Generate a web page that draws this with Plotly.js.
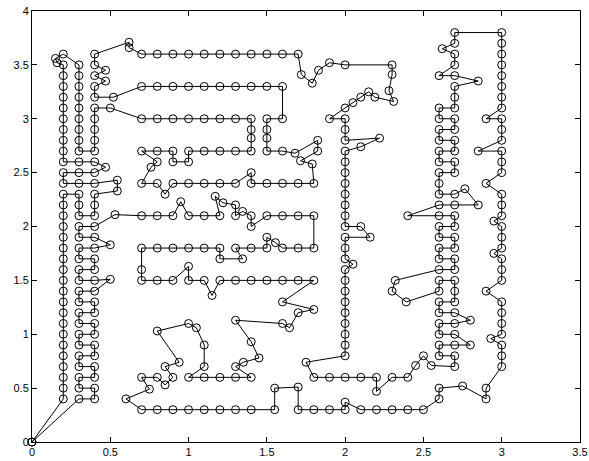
<!DOCTYPE html>
<html>
<head>
<meta charset="utf-8">
<script src="https://cdn.plot.ly/plotly-3.0.1.min.js"></script>
<style>
  html, body { margin: 0; padding: 0; background: #fff; }
  #chart { width: 589px; height: 461px; }
</style>
</head>
<body>
<div id="chart"></div>
<script>
// Tour through the points, in drawing order ([x, y] pairs).
const startColumn = [[0,0],[0.2,0.4],[0.2,0.5],[0.2,0.6],[0.2,0.7],[0.2,0.8],[0.2,0.9],[0.2,1.0],[0.2,1.1],[0.2,1.2],[0.2,1.3],[0.2,1.4],[0.2,1.5],[0.2,1.6],[0.2,1.7],[0.2,1.8],[0.2,1.9],[0.2,2.0],[0.2,2.1],[0.2,2.2],[0.2,2.3]];
const leftLoops = [[0.3,2.3],[0.3,2.2],[0.3,2.1],[0.4,2.1],[0.4,2.2],[0.4,2.3],[0.545,2.33],[0.545,2.43],[0.4,2.4],[0.3,2.4],[0.2,2.4],[0.2,2.5],[0.3,2.5],[0.4,2.5],[0.47,2.55],[0.4,2.6],[0.3,2.6],[0.2,2.6]];
const topLeft = [[0.2,2.7],[0.2,2.8],[0.2,2.9],[0.2,3.0],[0.2,3.1],[0.2,3.2],[0.2,3.3],[0.2,3.4],[0.2,3.5],[0.16,3.52],[0.15,3.56],[0.2,3.6],[0.3,3.5],[0.3,3.4],[0.3,3.3],[0.3,3.2],[0.3,3.1],[0.3,3.0],[0.3,2.9],[0.3,2.8],[0.3,2.7],[0.4,2.7],[0.4,2.8],[0.4,2.9],[0.4,3.0],[0.4,3.1],[0.5,3.1]];
const rows30and27 = [[0.7,3.0],[0.8,3.0],[0.9,3.0],[1.0,3.0],[1.1,3.0],[1.2,3.0],[1.3,3.0],[1.4,3.0],[1.4,2.9],[1.4,2.82],[1.4,2.7],[1.3,2.7],[1.2,2.7],[1.1,2.7],[1.0,2.7],[1.0,2.6],[0.9,2.6],[0.9,2.7],[0.8,2.7],[0.7,2.7],[0.8,2.6],[0.76,2.55],[0.7,2.4]];
const row24 = [[0.8,2.4],[0.85,2.3],[0.9,2.4],[1.0,2.4],[1.1,2.4],[1.2,2.4],[1.3,2.4],[1.4,2.5],[1.4,2.4],[1.5,2.4],[1.6,2.4],[1.7,2.4],[1.8,2.4],[1.79,2.58],[1.715,2.61],[1.825,2.7],[1.825,2.8],[1.68,2.68],[1.6,2.7],[1.5,2.7],[1.5,2.82],[1.5,2.9],[1.5,3.0],[1.6,3.0],[1.6,3.3]];
const rows33and36 = [[1.5,3.3],[1.4,3.3],[1.3,3.3],[1.2,3.3],[1.1,3.3],[1.0,3.3],[0.9,3.3],[0.8,3.3],[0.7,3.3],[0.52,3.2],[0.4,3.2],[0.4,3.3],[0.47,3.35],[0.4,3.4],[0.47,3.45],[0.4,3.5],[0.4,3.6],[0.62,3.71],[0.62,3.66],[0.7,3.6],[0.8,3.6],[0.9,3.6],[1.0,3.6],[1.1,3.6],[1.2,3.6],[1.3,3.6],[1.4,3.6],[1.5,3.6],[1.6,3.6],[1.7,3.6],[1.72,3.41],[1.79,3.33],[1.83,3.45],[1.9,3.52],[2.0,3.5],[2.3,3.5]];
const column20 = [[2.3,3.41],[2.28,3.26],[2.31,3.16],[2.19,3.2],[2.15,3.25],[2.1,3.2],[2.05,3.15],[2.0,3.1],[1.9,3.0],[2.0,3.0],[2.0,2.9],[2.0,2.8],[2.22,2.82],[2.1,2.74],[2.0,2.7],[2.0,2.6],[2.0,2.5],[2.0,2.4],[2.0,2.3],[2.0,2.2],[2.0,2.1],[2.0,2.0],[2.1,2.0],[2.16,1.9],[2.0,1.9],[2.0,1.8],[2.0,1.7],[2.05,1.65],[2.0,1.6],[2.0,1.5],[2.0,1.4],[2.0,1.3],[2.0,1.2],[2.0,1.1],[2.0,1.0],[2.0,0.9],[2.0,0.8],[1.75,0.74],[1.8,0.6],[1.9,0.6],[2.0,0.6],[2.1,0.6],[2.2,0.6],[2.2,0.47],[2.3,0.6],[2.4,0.6],[2.45,0.71],[2.5,0.8],[2.55,0.71],[2.7,0.7]];
const ladder = [[2.7,0.8],[2.6,0.8],[2.6,0.9],[2.7,0.9],[2.8,0.9],[2.7,1.0],[2.6,1.0],[2.6,1.1],[2.7,1.1],[2.8,1.13],[2.7,1.2],[2.6,1.2],[2.6,1.3],[2.7,1.3],[2.7,1.4],[2.7,1.5],[2.6,1.5],[2.6,1.4],[2.39,1.3],[2.3,1.4],[2.32,1.5],[2.6,1.6],[2.7,1.6],[2.7,1.7],[2.6,1.7],[2.6,1.8],[2.7,1.8],[2.7,1.9],[2.6,1.9],[2.6,2.0],[2.7,2.0],[2.7,2.1],[2.6,2.1],[2.4,2.1],[2.6,2.2],[2.7,2.2],[2.85,2.2],[2.765,2.35],[2.7,2.3],[2.6,2.3],[2.6,2.4],[2.6,2.5],[2.7,2.5],[2.7,2.6],[2.6,2.6],[2.6,2.7],[2.7,2.7],[2.7,2.8],[2.6,2.8],[2.6,2.9],[2.7,2.9],[2.7,3.0],[2.6,3.0],[2.6,3.1],[2.7,3.1],[2.7,3.2],[2.7,3.3],[2.85,3.35],[2.7,3.4],[2.6,3.4],[2.7,3.5],[2.7,3.6],[2.62,3.65],[2.7,3.7],[2.7,3.8]];
const column30 = [[3.0,3.8],[3.0,3.7],[3.0,3.6],[3.0,3.5],[3.0,3.4],[3.0,3.3],[3.0,3.2],[3.0,3.1],[2.9,3.0],[3.0,3.0],[3.0,2.9],[3.0,2.8],[2.85,2.7],[3.0,2.7],[3.0,2.6],[3.0,2.5],[2.9,2.4],[3.0,2.3],[3.0,2.2],[3.0,2.1],[2.95,2.05],[3.0,2.0],[3.0,1.9],[3.0,1.8],[2.95,1.75],[3.0,1.7],[3.0,1.6],[3.0,1.5],[2.9,1.4],[3.0,1.3],[3.0,1.2],[3.0,1.1],[3.0,1.0],[2.93,0.96],[3.0,0.9],[3.0,0.8],[3.0,0.7],[2.9,0.5],[2.9,0.4],[2.75,0.52],[2.6,0.5],[2.6,0.4],[2.5,0.3],[2.4,0.3],[2.3,0.3],[2.2,0.3],[2.1,0.3],[2.0,0.37],[2.0,0.3],[1.9,0.3],[1.8,0.3],[1.7,0.3],[1.7,0.51],[1.55,0.5],[1.55,0.3],[1.4,0.3],[1.3,0.3],[1.2,0.3],[1.1,0.3],[1.0,0.3],[0.9,0.3],[0.8,0.3],[0.7,0.3]];
const middle = [[0.6,0.4],[0.75,0.49],[0.7,0.6],[0.8,0.6],[0.85,0.53],[0.9,0.6],[0.85,0.7],[0.94,0.74],[0.8,1.03],[1.0,1.1],[1.05,1.06],[1.1,0.9],[1.1,0.7],[1.0,0.6],[1.1,0.6],[1.2,0.6],[1.3,0.6],[1.4,0.6],[1.3,0.7],[1.35,0.74],[1.45,0.78],[1.4,0.93],[1.3,1.13],[1.6,1.1],[1.645,1.06],[1.7,1.2],[1.8,1.23],[1.6,1.3],[1.8,1.5],[1.7,1.5],[1.6,1.5],[1.5,1.5],[1.4,1.5],[1.3,1.5],[1.2,1.5],[1.15,1.36],[1.1,1.5],[1.0,1.5],[1.0,1.63],[0.9,1.5],[0.8,1.5],[0.7,1.5],[0.7,1.6],[0.7,1.8],[0.8,1.8],[0.9,1.8],[1.0,1.8],[1.1,1.8],[1.2,1.8],[1.2,1.7],[1.345,1.7],[1.3,1.8],[1.4,1.8],[1.5,1.8],[1.5,1.9],[1.555,1.85],[1.6,1.8],[1.7,1.8],[1.8,1.8],[1.8,2.1],[1.7,2.1],[1.6,2.1],[1.5,2.1],[1.4,2.0],[1.4,2.1],[1.345,2.14],[1.3,2.1],[1.3,2.2],[1.22,2.22],[1.17,2.28],[1.2,2.1],[1.1,2.1],[1.0,2.1],[0.95,2.23],[0.9,2.1],[0.8,2.1],[0.7,2.1],[0.53,2.11]];
const snake = [[0.4,2.0],[0.3,2.0],[0.3,1.9],[0.4,1.9],[0.5,1.83],[0.4,1.8],[0.3,1.8],[0.3,1.7],[0.4,1.7],[0.4,1.6],[0.3,1.6],[0.3,1.5],[0.4,1.5],[0.5,1.51],[0.4,1.4],[0.3,1.4],[0.3,1.3],[0.4,1.3],[0.4,1.2],[0.3,1.2],[0.3,1.1],[0.4,1.1],[0.4,1.0],[0.3,1.0],[0.3,0.9],[0.4,0.9],[0.4,0.8],[0.3,0.8],[0.3,0.7],[0.4,0.7],[0.4,0.6],[0.3,0.6],[0.3,0.5],[0.4,0.5],[0.4,0.4],[0.3,0.4],[0,0]];

const xTicks = [0, 0.5, 1, 1.5, 2, 2.5, 3, 3.5];
const xTickText = ['0', '0.5', '1', '1.5', '2', '2.5', '3', '3.5'];
const yTicks = [0, 0.5, 1, 1.5, 2, 2.5, 3, 3.5, 4];
const yTickText = ['0', '0.5', '1', '1.5', '2', '2.5', '3', '3.5', '4'];

const tour = [].concat(startColumn, leftLoops, topLeft, rows30and27, row24, rows33and36,
  column20, ladder, column30, middle, snake);

const trace = {
  type: 'scatter',
  mode: 'lines+markers',
  x: tour.map(p => p[0]),
  y: tour.map(p => p[1]),
  line: { color: '#000', width: 1 },
  marker: { symbol: 'circle-open', size: 8, color: '#000', line: { width: 1, color: '#000' } },
  cliponaxis: false,
  hoverinfo: 'none'
};

const axisCommon = {
  showgrid: false, zeroline: false,
  showline: true, linecolor: '#000', linewidth: 1,
  mirror: 'ticks', ticks: 'inside', ticklen: 5, tickcolor: '#000', tickwidth: 1,
  tickfont: { family: 'Liberation Sans, Arial, Helvetica, sans-serif', size: 11, color: '#000' },
  tickmode: 'array', fixedrange: true
};

const layout = {
  width: 589, height: 461,
  margin: { l: 32, r: 9, t: 11, b: 19, pad: 0 },
  paper_bgcolor: '#fff', plot_bgcolor: '#fff',
  showlegend: false,
  xaxis: Object.assign({}, axisCommon, { range: [0, 3.5], tickvals: xTicks, ticktext: xTickText }),
  yaxis: Object.assign({}, axisCommon, { range: [0, 4], tickvals: yTicks, ticktext: yTickText })
};

Plotly.newPlot('chart', [trace], layout, { staticPlot: true, displayModeBar: false });
</script>
</body>
</html>
